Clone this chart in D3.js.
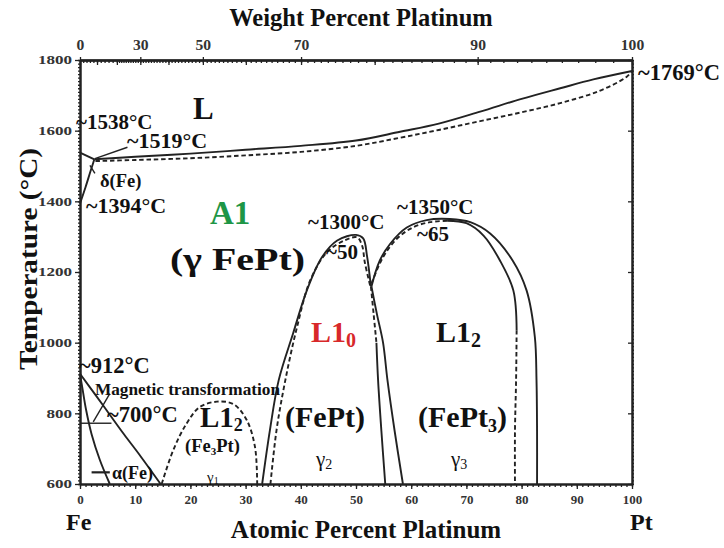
<!DOCTYPE html>
<html><head><meta charset="utf-8">
<script src="https://cdn.jsdelivr.net/npm/d3@7"></script>
<style>body{margin:0;background:#fff}</style>
</head><body>
<svg id="c" width="724" height="548"></svg>
<script>
// ---------------- DATA ----------------
const atomicTickLabels = [0,10,20,30,40,50,60,70,80,90,100];
const tempTickLabels = [600,800,1000,1200,1400,1600,1800];
const weightTickLabels = [0,30,50,70,90,100];

// [atomic % Pt, temperature °C]
const liquidus = [[2.6,1519],[10,1526],[20,1535],[30,1546],[40,1557],[50,1572],[58,1597],[65,1620],[72.5,1654],[80,1690],[87,1720],[93,1745],[100,1769]];
const solidus = [[2.8,1514],[10,1517],[20,1522],[30,1530],[40,1540],[50,1557],[58,1580],[65,1602],[72.5,1627],[80,1652],[87,1678],[94,1712],[99,1752],[100,1769]];
const deltaLiquidus = [[0,1538],[2.6,1519]];
const deltaGamma = [[0,1394],[1.0,1440],[1.9,1485],[2.6,1519]];
const leader1519 = [[2.7,1521],[8.6,1553]];
const leaderDelta = [[2.7,1479],[1.8,1502]];
const gammaAlpha = [[0,912],[3,848],[5.4,796],[8,740],[11,678],[14.6,600]];
const alphaGamma = [[0,912],[0.5,865],[1.1,810],[2.1,741],[3.6,668],[5.4,600]];
const magnetic = [[0,772],[5.7,772]];
const leaderMagnetic = [[2.4,776],[5.4,856]];
const leaderAlpha = [[2.1,633],[5.4,633]];
const fe3ptDome = [[14.8,600],[16.9,696],[19.3,771],[21.7,818],[24.8,833],[27.8,826],[30.2,781],[31.7,705],[32.1,600]];
const l10Outer = [[33.0,600],[34.4,752],[36.0,894],[38.6,1026],[41.1,1148],[43.8,1241],[46.6,1289],[50.0,1305],[51.3,1295],[52.0,1245],[52.7,1159]];
const l10Inner = [[34.5,600],[35.6,752],[37.2,894],[39.3,1043],[41.7,1176],[44.7,1255],[48.0,1290],[50.2,1298],[51.1,1275],[51.6,1227],[52.6,1159]];
const l10RightUpper = [[52.7,1159],[53.2,1080],[53.7,1000]];
const l10RightLower = [[53.7,1000],[54.0,894],[54.6,750],[55.3,600]];
const l12LeftBoundary = [[52.8,1159],[53.8,1080],[54.9,1000],[55.7,894],[57.0,750],[58.5,600]];
const l12Outer = [[52.8,1159],[54.3,1232],[56.2,1280],[59.2,1326],[62.8,1347],[67.0,1350],[70.7,1341],[74.3,1309],[78.4,1232],[80.9,1148],[82.4,1016],[82.7,894],[82.8,750],[82.8,600]];
const l12InnerLeft = [[52.8,1167],[54.9,1242],[57.4,1294],[60.4,1327],[63.4,1341],[66.5,1345]];
const l12InnerRight = [[66.5,1345],[70.0,1338],[73.1,1303],[76.1,1232],[78.5,1148],[79.1,1035]];
const l12InnerRightLow = [[79.1,1035],[79.0,894],[78.8,750],[78.8,600]];

// ---------------- CHART ----------------
const SERIF = '"Liberation Serif","Times New Roman",serif';
const INK = "#222";
const svg = d3.select("#c");
svg.append("rect").attr("width",724).attr("height",548).attr("fill","#fff");

const x = d3.scaleLinear().domain([0,100]).range([80,632]);
const y = d3.scaleLinear().domain([600,1800]).range([484,60]);
const wtToAt = w => { const a = w/195.08, b = (100-w)/55.845; return 100*a/(a+b); };

function styleAxis(g){
  g.select(".domain").attr("stroke",INK).attr("stroke-width",2);
  g.selectAll(".tick line").attr("stroke",INK).attr("stroke-width",1.3);
  g.selectAll("text").attr("font-family",SERIF).attr("font-weight","bold").attr("fill","#333");
}

// bottom axis
svg.append("g").attr("transform",`translate(0,${y(600)})`)
  .call(d3.axisBottom(x).tickValues(d3.range(0,101,1)).tickSize(3).tickSizeOuter(0).tickFormat(""))
  .call(styleAxis);
svg.append("g").attr("transform",`translate(0,${y(600)})`)
  .call(d3.axisBottom(x).tickValues(atomicTickLabels).tickSize(5).tickSizeOuter(0).tickPadding(6).tickFormat(d3.format("d")))
  .call(styleAxis).selectAll("text").attr("font-size",13);

// left axis
svg.append("g").attr("transform",`translate(${x(0)},0)`)
  .call(d3.axisLeft(y).tickValues(d3.range(600,1801,10)).tickSize(2).tickSizeOuter(0).tickFormat(""))
  .call(styleAxis);
svg.append("g").attr("transform",`translate(${x(0)},0)`)
  .call(d3.axisLeft(y).tickValues(tempTickLabels).tickSize(5).tickSizeOuter(0).tickPadding(3).tickFormat(d3.format("d")))
  .call(styleAxis).selectAll("text").attr("font-size",12)
  .attr("textLength",function(d){return String(d).length*8.5;}).attr("lengthAdjust","spacingAndGlyphs");

// right axis
svg.append("g").attr("transform",`translate(${x(100)},0)`)
  .call(d3.axisRight(y).tickValues(d3.range(600,1801,10)).tickSize(2).tickSizeOuter(0).tickFormat(""))
  .call(styleAxis);
svg.append("g").attr("transform",`translate(${x(100)},0)`)
  .call(d3.axisRight(y).tickValues(tempTickLabels).tickSize(-4).tickSizeOuter(0).tickFormat(""))
  .call(styleAxis);

// top axis (weight percent, mapped to atomic percent positions)
const wtMinor = d3.range(1,100).filter(w => w >= 20 || w % 2 === 0);
svg.append("g").attr("transform",`translate(0,${y(1800)})`)
  .call(d3.axisTop(x).tickValues(wtMinor.map(wtToAt)).tickSize(-3).tickSizeOuter(0).tickFormat(""))
  .call(styleAxis);
svg.append("g").attr("transform",`translate(0,${y(1800)})`)
  .call(d3.axisTop(x).tickValues(d3.range(0,101,10).map(wtToAt)).tickSize(-5).tickSizeOuter(0).tickFormat(""))
  .call(styleAxis);
svg.append("g").attr("transform",`translate(0,${y(1800)})`)
  .call(d3.axisTop(x).tickValues(weightTickLabels.map(wtToAt)).tickSize(3).tickSizeOuter(0).tickPadding(7)
        .tickFormat((d,i)=>weightTickLabels[i]))
  .call(styleAxis).selectAll("text").attr("font-size",14)
  .attr("textLength",function(d,i){return String(weightTickLabels[i]).length*7.8;}).attr("lengthAdjust","spacingAndGlyphs");

// phase boundaries
const smooth = d3.line().x(d=>x(d[0])).y(d=>y(d[1])).curve(d3.curveCatmullRom.alpha(0.5));
const straight = d3.line().x(d=>x(d[0])).y(d=>y(d[1]));
function draw(pts, dashed, gen, w){
  svg.append("path").attr("d",(gen||smooth)(pts)).attr("fill","none")
    .attr("stroke",INK).attr("stroke-width",w||1.9).attr("stroke-linejoin","round")
    .attr("stroke-dasharray",dashed ? "4.5,2.8" : null);
}
draw(liquidus,false);
draw(solidus,true);
draw(deltaLiquidus,false,straight);
draw(deltaGamma,false);
draw(leader1519,false,straight,1.4);
draw(leaderDelta,false,straight,1.4);
draw(gammaAlpha,false);
draw(alphaGamma,false);
draw(magnetic,false,straight,1.4);
draw(leaderMagnetic,false,straight,1.4);
draw(leaderAlpha,false,straight,2.2);
draw(fe3ptDome,true);
draw(l10Outer,false);
draw(l10Inner,true);
draw(l10RightUpper,true);
draw(l10RightLower,false);
draw(l12LeftBoundary,false);
draw(l12Outer,false);
draw(l12InnerLeft,true);
draw(l12InnerRight,false);
draw(l12InnerRightLow,true);

// text
function label(px, py, parts, size, opts){
  opts = opts || {};
  const t = svg.append("text").attr("x",px).attr("y",py)
    .attr("font-family",SERIF).attr("font-size",size)
    .attr("font-weight",opts.normal ? "normal" : "bold")
    .attr("fill",opts.color || "#111")
    .attr("text-anchor",opts.anchor || "start");
  if (opts.rotate) t.attr("transform",`rotate(${opts.rotate},${px},${py})`);
  if (opts.len) t.attr("textLength",opts.len).attr("lengthAdjust","spacingAndGlyphs");
  (Array.isArray(parts) ? parts : [[parts]]).forEach(p => {
    const s = t.append("tspan").text(p[0]);
    if (p[1]) s.attr("font-size",p[1]).attr("dy",p[2]);
  });
  return t;
}
label(361,26,"Weight Percent Platinum",24.5,{anchor:"middle"});
label(366,538,"Atomic Percent Platinum",25,{anchor:"middle"});
label(37,259,"Temperature (°C)",25,{anchor:"middle",rotate:-90,len:222});
label(66,530,"Fe",24);
label(630,530,"Pt",24);
label(193,119,"L",31);
label(76,129,"~1538°C",21);
label(127,148,"~1519°C",22);
label(100,187,"δ(Fe)",18.5);
label(86,213,"~1394°C",22);
label(210,224,"A1",33,{color:"#1e9646"});
label(170,270,"(γ FePt)",32,{len:135});
label(308,229,"~1300°C",21);
label(326,259,"~50",21);
label(397,214,"~1350°C",21);
label(417,241,"~65",21);
label(311,342,[["L1"],["0",20,5]],30,{color:"#d8282a"});
label(436,342,[["L1"],["2",20,5]],30);
label(79,373,"~912°C",22.5);
label(95,395,"Magnetic transformation",16,{len:185});
label(107,422,"~700°C",22.5);
label(200,427,[["L1"],["2",18,4]],29);
label(185,452,[["(Fe"],["3",11,3],["Pt)",18.5,-3]],18.5);
label(207,482,[["γ"],["1",10,2]],15,{normal:true});
label(112,479,"α(Fe)",18);
label(285,427,"(FePt)",30);
label(316,466,[["γ"],["2",14,3]],21,{normal:true});
label(418,427,[["(FePt"],["3",18,5],[")",30,-5]],30);
label(451,466,[["γ"],["3",14,3]],21,{normal:true});
label(638,80,"~1769°C",22.5);
</script>
</body></html>
